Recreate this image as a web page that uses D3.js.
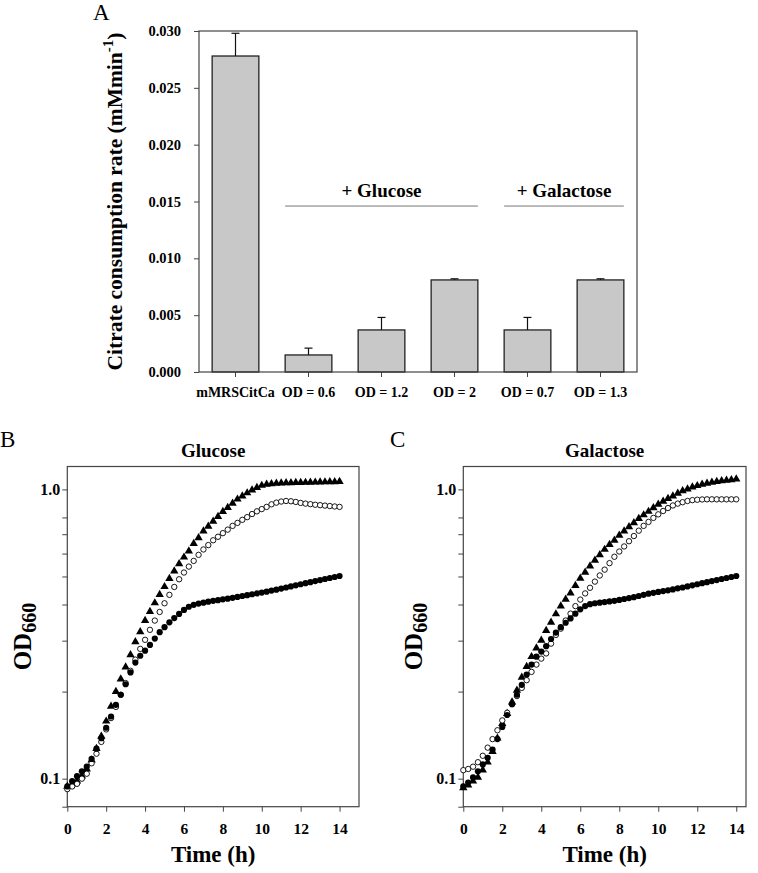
<!DOCTYPE html>
<html lang="en">
<head>
<meta charset="UTF-8">
<title>Citrate consumption rate and growth curves</title>
<script src="https://cdn.jsdelivr.net/npm/d3@7"></script>
<style>
  body { margin: 0; background: #fff; }
  svg text { font-family: "Liberation Serif", "Times New Roman", serif; fill: #000; }
</style>
</head>
<body>
<svg id="fig" width="758" height="873"></svg>
<script>
// ---- Panel A data ----
const conditions = ["mMRSCitCa", "OD = 0.6", "OD = 1.2", "OD = 2", "OD = 0.7", "OD = 1.3"];
const rates = [0.0278, 0.0015, 0.0037, 0.0081, 0.0037, 0.0081];
const rateErr = [0.0020, 0.0006, 0.0011, 0.0001, 0.0011, 0.0001];
const rateTicks = [0, 0.005, 0.010, 0.015, 0.020, 0.025, 0.030];
const groupLabels = ["+ Glucose", "+ Galactose"];
const groupFrom = ["OD = 0.6", "OD = 0.7"];
const groupTo = ["OD = 2", "OD = 1.3"];

// ---- Panels B / C data (OD660 every 15 min) ----
const hours = [0, 0.25, 0.5, 0.75, 1, 1.25, 1.5, 1.75, 2, 2.25, 2.5, 2.75, 3, 3.25, 3.5, 3.75,
  4, 4.25, 4.5, 4.75, 5, 5.25, 5.5, 5.75, 6, 6.25, 6.5, 6.75, 7, 7.25, 7.5, 7.75,
  8, 8.25, 8.5, 8.75, 9, 9.25, 9.5, 9.75, 10, 10.25, 10.5, 10.75, 11, 11.25, 11.5, 11.75,
  12, 12.25, 12.5, 12.75, 13, 13.25, 13.5, 13.75, 14];

const gluTri = [0.094, 0.096, 0.098, 0.102, 0.108, 0.116, 0.127, 0.140, 0.158, 0.178, 0.200, 0.221,
  0.243, 0.268, 0.297, 0.322, 0.352, 0.378, 0.405, 0.433, 0.461, 0.492, 0.522, 0.553,
  0.583, 0.612, 0.650, 0.680, 0.718, 0.745, 0.776, 0.805, 0.838, 0.865, 0.895, 0.925,
  0.948, 0.972, 0.995, 1.015, 1.032, 1.042, 1.046, 1.049, 1.051, 1.053, 1.054, 1.055,
  1.056, 1.057, 1.058, 1.059, 1.060, 1.061, 1.062, 1.063, 1.065];
const gluOpen = [0.092, 0.094, 0.096, 0.100, 0.104, 0.113, 0.122, 0.134, 0.148, 0.162, 0.177, 0.195,
  0.214, 0.236, 0.258, 0.281, 0.302, 0.327, 0.352, 0.377, 0.404, 0.432, 0.460, 0.489,
  0.516, 0.541, 0.566, 0.594, 0.620, 0.642, 0.667, 0.686, 0.706, 0.726, 0.748, 0.766,
  0.785, 0.802, 0.822, 0.840, 0.855, 0.870, 0.888, 0.900, 0.908, 0.912, 0.910, 0.905,
  0.898, 0.893, 0.889, 0.885, 0.882, 0.879, 0.876, 0.873, 0.870];
const gluFill = [0.094, 0.098, 0.102, 0.106, 0.110, 0.117, 0.127, 0.138, 0.150, 0.164, 0.180, 0.195,
  0.212, 0.233, 0.252, 0.266, 0.277, 0.290, 0.305, 0.321, 0.334, 0.347, 0.359, 0.371,
  0.383, 0.393, 0.399, 0.403, 0.406, 0.409, 0.412, 0.414, 0.417, 0.419, 0.422, 0.425,
  0.428, 0.431, 0.434, 0.437, 0.440, 0.443, 0.447, 0.450, 0.454, 0.458, 0.462, 0.466,
  0.470, 0.474, 0.478, 0.482, 0.486, 0.490, 0.494, 0.498, 0.502];

const galTri = [0.093, 0.095, 0.098, 0.101, 0.107, 0.114, 0.124, 0.138, 0.155, 0.168, 0.184, 0.202,
  0.224, 0.244, 0.264, 0.283, 0.301, 0.325, 0.347, 0.371, 0.395, 0.417, 0.438, 0.465,
  0.493, 0.517, 0.543, 0.569, 0.594, 0.620, 0.645, 0.667, 0.694, 0.718, 0.742, 0.767,
  0.793, 0.816, 0.839, 0.864, 0.888, 0.909, 0.929, 0.948, 0.970, 0.988, 1.003, 1.018,
  1.030, 1.041, 1.050, 1.058, 1.064, 1.070, 1.075, 1.080, 1.085];
const galOpen = [0.107, 0.108, 0.110, 0.114, 0.120, 0.128, 0.137, 0.147, 0.159, 0.169, 0.181, 0.193,
  0.206, 0.219, 0.234, 0.248, 0.260, 0.271, 0.293, 0.314, 0.330, 0.352, 0.372, 0.395,
  0.416, 0.437, 0.457, 0.480, 0.504, 0.528, 0.556, 0.585, 0.610, 0.635, 0.662, 0.690,
  0.720, 0.748, 0.772, 0.797, 0.820, 0.842, 0.862, 0.880, 0.893, 0.903, 0.912, 0.918,
  0.921, 0.923, 0.924, 0.924, 0.924, 0.924, 0.924, 0.924, 0.924];
const galFill = [0.094, 0.097, 0.101, 0.106, 0.112, 0.118, 0.126, 0.137, 0.151, 0.166, 0.181, 0.195,
  0.211, 0.229, 0.248, 0.264, 0.275, 0.287, 0.304, 0.320, 0.334, 0.346, 0.358, 0.372,
  0.385, 0.395, 0.401, 0.404, 0.406, 0.408, 0.410, 0.412, 0.415, 0.418, 0.421, 0.424,
  0.428, 0.432, 0.436, 0.439, 0.442, 0.445, 0.448, 0.451, 0.455, 0.458, 0.462, 0.466,
  0.470, 0.474, 0.478, 0.482, 0.486, 0.490, 0.494, 0.498, 0.502];

const odMajor = [0.1, 1.0];
const odMinor = [0.08, 0.2, 0.3, 0.4, 0.5, 0.6, 0.7, 0.8];
const timeTicks = [0, 2, 4, 6, 8, 10, 12, 14];

const serif = "'Liberation Serif', 'Times New Roman', serif";
const svg = d3.select("#fig");
const axisColor = "#444";

// ================= Panel A =================
const aLeft = 199, aRight = 637, aTop = 31, aBottom = 372;
const ax = d3.scaleBand().domain(conditions).range([aLeft, aRight])
  .paddingInner(0.36).paddingOuter(0.18);
const ay = d3.scaleLinear().domain([0, 0.030]).range([aBottom, aTop]);

const gA = svg.append("g");

gA.append("g")
  .attr("transform", `translate(${aLeft},0)`)
  .attr("color", axisColor)
  .attr("font-family", serif)
  .call(d3.axisLeft(ay).tickValues(rateTicks).tickFormat(d3.format(".3f"))
    .tickSize(5).tickSizeOuter(0).tickPadding(13))
  .call(g => g.select(".domain").remove())
  .selectAll("text")
  .attr("font-size", 14.5).attr("font-weight", "bold");

gA.append("g")
  .attr("transform", `translate(0,${aBottom})`)
  .attr("color", axisColor)
  .attr("font-family", serif)
  .call(d3.axisBottom(ax).tickSize(5).tickSizeOuter(0).tickPadding(10))
  .call(g => g.select(".domain").remove())
  .selectAll("text")
  .attr("font-size", 14).attr("font-weight", "bold");

// bars
gA.selectAll("rect.bar")
  .data(conditions)
  .join("rect")
  .attr("class", "bar")
  .attr("x", d => ax(d))
  .attr("y", (d, i) => ay(rates[i]))
  .attr("width", ax.bandwidth())
  .attr("height", (d, i) => aBottom - ay(rates[i]))
  .attr("fill", "#c8c8c8")
  .attr("stroke", "#222")
  .attr("stroke-width", 1.3);

// error bars
const errG = gA.selectAll("g.err")
  .data(conditions)
  .join("g")
  .attr("class", "err")
  .attr("stroke", "#111")
  .attr("stroke-width", 1.2);
errG.append("line")
  .attr("x1", d => ax(d) + ax.bandwidth() / 2)
  .attr("x2", d => ax(d) + ax.bandwidth() / 2)
  .attr("y1", (d, i) => ay(rates[i]))
  .attr("y2", (d, i) => ay(rates[i] + rateErr[i]));
errG.append("line")
  .attr("x1", d => ax(d) + ax.bandwidth() / 2 - 4)
  .attr("x2", d => ax(d) + ax.bandwidth() / 2 + 4)
  .attr("y1", (d, i) => ay(rates[i] + rateErr[i]))
  .attr("y2", (d, i) => ay(rates[i] + rateErr[i]));

// frame
gA.append("rect")
  .attr("x", aLeft).attr("y", aTop)
  .attr("width", aRight - aLeft).attr("height", aBottom - aTop)
  .attr("fill", "none").attr("stroke", axisColor).attr("stroke-width", 1.2);

// group annotations
const groupY = ay(0.0146);
groupLabels.forEach((lab, i) => {
  const x1 = ax(groupFrom[i]), x2 = ax(groupTo[i]) + ax.bandwidth();
  gA.append("line")
    .attr("x1", x1).attr("x2", x2).attr("y1", groupY).attr("y2", groupY)
    .attr("stroke", "#777").attr("stroke-width", 1);
  gA.append("text")
    .attr("x", (x1 + x2) / 2).attr("y", groupY - 9)
    .attr("text-anchor", "middle")
    .attr("font-size", 19).attr("font-weight", "bold")
    .text(lab);
});

// y label
const aLabel = gA.append("text")
  .attr("transform", `translate(122,${(aTop + aBottom) / 2}) rotate(-90)`)
  .attr("text-anchor", "middle")
  .attr("font-size", 21.5).attr("font-weight", "bold");
aLabel.append("tspan").text("Citrate consumption rate (mMmin");
aLabel.append("tspan").attr("font-size", 15).attr("dy", -9).text("-1");
aLabel.append("tspan").attr("dy", 9).text(")");

svg.append("text").attr("x", 93).attr("y", 20).attr("font-size", 23).text("A");

// ================= Panels B / C =================
const pTop = 466.5, pBottom = 806.7;
const y = d3.scaleLog().domain([0.08, 1.2]).range([pBottom, pTop]);

function growthPanel(left, right, tMax, title, tri, open, fill, letter, letterX, odX) {
  const g = svg.append("g");
  const x = d3.scaleLinear().domain([0, tMax]).range([left, right]);

  // y axis major ticks with labels
  g.append("g")
    .attr("transform", `translate(${left},0)`)
    .attr("color", axisColor)
    .attr("font-family", serif)
    .call(d3.axisLeft(y).tickValues(odMajor).tickFormat(d3.format(".1f"))
      .tickSize(5).tickSizeOuter(0).tickPadding(2))
    .call(a => a.select(".domain").remove())
    .selectAll("text")
    .attr("font-size", 16).attr("font-weight", "bold");
  // minor ticks
  g.append("g")
    .attr("transform", `translate(${left},0)`)
    .attr("color", axisColor)
    .call(d3.axisLeft(y).tickValues(odMinor).tickFormat("").tickSize(5).tickSizeOuter(0))
    .call(a => a.select(".domain").remove());

  g.append("g")
    .attr("transform", `translate(0,${pBottom})`)
    .attr("color", axisColor)
    .attr("font-family", serif)
    .call(d3.axisBottom(x).tickValues(timeTicks).tickFormat(d3.format("d"))
      .tickSize(5).tickSizeOuter(0).tickPadding(11))
    .call(a => a.select(".domain").remove())
    .selectAll("text")
    .attr("font-size", 15.5).attr("font-weight", "bold");

  g.append("rect")
    .attr("x", left).attr("y", pTop)
    .attr("width", right - left).attr("height", pBottom - pTop)
    .attr("fill", "none").attr("stroke", axisColor).attr("stroke-width", 1.2);

  // triangles
  g.selectAll("path.tri")
    .data(hours)
    .join("path")
    .attr("class", "tri")
    .attr("transform", (d, i) => `translate(${x(d)},${y(tri[i])})`)
    .attr("d", d3.symbol(d3.symbolTriangle, 30))
    .attr("fill", "#000");
  // open circles
  g.selectAll("circle.open")
    .data(hours)
    .join("circle")
    .attr("class", "open")
    .attr("cx", d => x(d))
    .attr("cy", (d, i) => y(open[i]))
    .attr("r", 2.7)
    .attr("fill", "#fff")
    .attr("stroke", "#000")
    .attr("stroke-width", 0.9);
  // filled circles
  g.selectAll("circle.fill")
    .data(hours)
    .join("circle")
    .attr("class", "fill")
    .attr("cx", d => x(d))
    .attr("cy", (d, i) => y(fill[i]))
    .attr("r", 3.1)
    .attr("fill", "#000");

  const cx = (left + right) / 2;
  g.append("text")
    .attr("x", cx).attr("y", 457)
    .attr("text-anchor", "middle")
    .attr("font-size", 19).attr("font-weight", "bold")
    .text(title);

  g.append("text")
    .attr("x", cx).attr("y", 862)
    .attr("text-anchor", "middle")
    .attr("font-size", 23).attr("font-weight", "bold")
    .text("Time (h)");

  const od = g.append("text")
    .attr("transform", `translate(${odX},${(pTop + pBottom) / 2}) rotate(-90)`)
    .attr("text-anchor", "middle")
    .attr("font-size", 25).attr("font-weight", "bold");
  od.append("tspan").text("OD");
  od.append("tspan").attr("font-size", 20).attr("dy", 5).text("660");

  svg.append("text").attr("x", letterX).attr("y", 447).attr("font-size", 23).text(letter);
}

growthPanel(67.3, 359, 15, "Glucose", gluTri, gluOpen, gluFill, "B", 0, 31);
growthPanel(463.3, 746, 14.5, "Galactose", galTri, galOpen, galFill, "C", 390, 422);
</script>
</body>
</html>
